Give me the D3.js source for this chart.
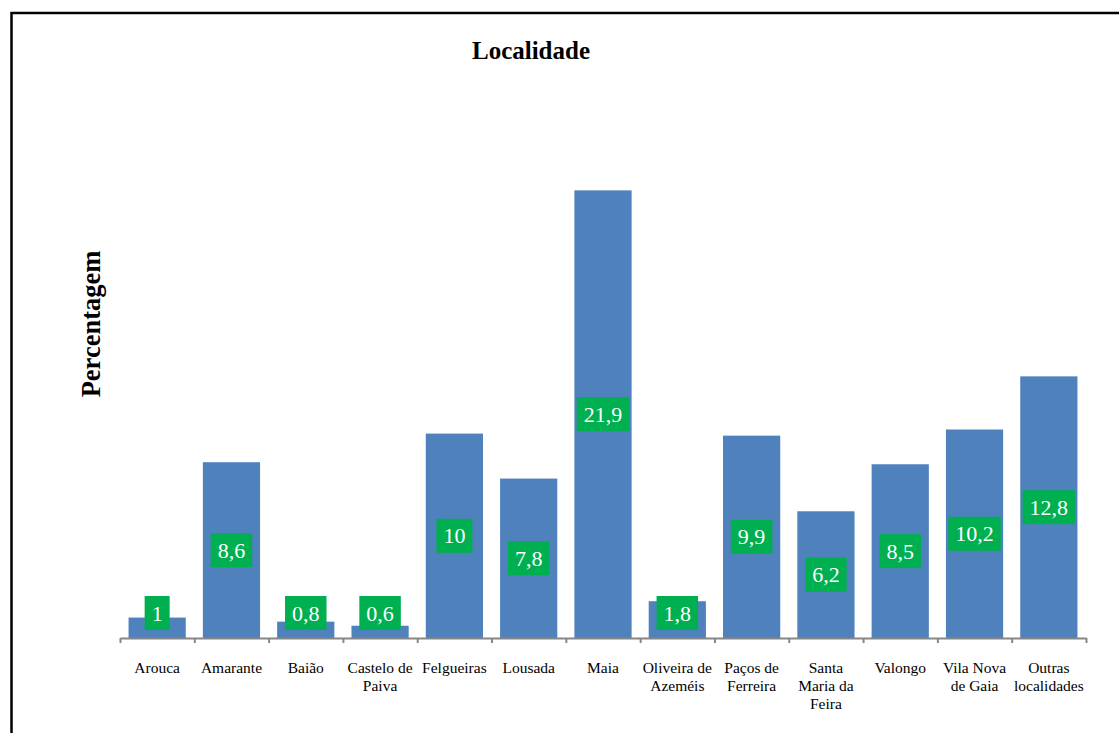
<!DOCTYPE html>
<html>
<head>
<meta charset="utf-8">
<script src="https://cdn.jsdelivr.net/npm/d3@7/dist/d3.min.js"></script>
<style>
  html, body { margin: 0; padding: 0; background: #fff; }
  svg { display: block; }
</style>
</head>
<body>
<script>
const categories = ["Arouca", "Amarante", "Baião", "Castelo de Paiva", "Felgueiras", "Lousada", "Maia",
  "Oliveira de Azeméis", "Paços de Ferreira", "Santa Maria da Feira", "Valongo", "Vila Nova de Gaia", "Outras localidades"];
const values = [1, 8.6, 0.8, 0.6, 10, 7.8, 21.9, 1.8, 9.9, 6.2, 8.5, 10.2, 12.8];
const chartTitle = "Localidade";
const yTitle = "Percentagem";

const FONT = "'Liberation Serif', 'Times New Roman', Times, serif";
const W = 1119, H = 733;
const svg = d3.select("body").append("svg").attr("width", W).attr("height", H);

// frame
svg.append("rect").attr("x", 11.5).attr("y", 13).attr("width", W + 20).attr("height", H + 20)
  .attr("fill", "none").attr("stroke", "#000").attr("stroke-width", 2.5);

const x0 = 120, x1 = 1086, yBase = 638, yTop = 127;
const x = d3.scaleBand().domain(categories).range([x0, x1]).paddingInner(0.23).paddingOuter(0.115);
const y = d3.scaleLinear().domain([0, 25]).range([yBase, yTop]);

// title
svg.append("text").attr("x", 531).attr("y", 59).attr("text-anchor", "middle")
  .style("font-family", FONT).attr("font-weight", "bold")
  .attr("font-size", 25).text(chartTitle);

// y title
svg.append("text").attr("transform", "translate(100,324) rotate(-90)").attr("text-anchor", "middle")
  .style("font-family", FONT).attr("font-weight", "bold")
  .attr("font-size", 26.5).text(yTitle);

// bars
svg.append("g").selectAll("rect").data(values).join("rect")
  .attr("x", (d, i) => x(categories[i]))
  .attr("y", d => y(d))
  .attr("width", x.bandwidth())
  .attr("height", d => y(0) - y(d))
  .attr("fill", "#4F81BD");

// axis
const edge = d3.scaleLinear().domain([0, categories.length]).range([x0, x1]);
const axis = svg.append("g").attr("transform", `translate(0,${yBase})`)
  .call(d3.axisBottom(edge).tickValues(d3.range(categories.length + 1))
    .tickSize(5).tickSizeOuter(0).tickFormat(""));
axis.selectAll("path, line").attr("stroke", "#868686").attr("stroke-width", 2);

// category labels with wrapping
const labG = svg.append("g").style("font-family", FONT)
  .attr("font-size", 15.5).attr("fill", "#000");
categories.forEach((c, i) => {
  const cx = x(c) + x.bandwidth() / 2;
  const t = labG.append("text").attr("text-anchor", "middle");
  const words = c.split(" ");
  let lines = [], cur = [];
  const probe = labG.append("text").attr("visibility", "hidden");
  words.forEach(w => {
    const test = cur.concat([w]).join(" ");
    probe.text(test);
    if (cur.length && probe.node().getComputedTextLength() > 72) {
      lines.push(cur.join(" ")); cur = [w];
    } else cur.push(w);
  });
  lines.push(cur.join(" "));
  probe.remove();
  lines.forEach((l, k) => {
    t.append("tspan").attr("x", cx).attr("y", 672.5 + k * 18).text(l);
  });
});

// value labels
const vg = svg.append("g");
values.forEach((v, i) => {
  const cx = x(categories[i]) + x.bandwidth() / 2;
  let cy = (y(v) + y(0)) / 2;
  const h = 34;
  if (cy + h / 2 > 630) cy = 630 - h / 2;
  const g = vg.append("g");
  const r = g.append("rect").attr("fill", "#00B050");
  const t = g.append("text").attr("x", cx).attr("y", cy + 7.5).attr("text-anchor", "middle")
    .style("font-family", FONT).attr("font-size", 22)
    .attr("fill", "#fff").text(String(v).replace(".", ","));
  const w = t.node().getComputedTextLength() + 14;
  r.attr("x", cx - w / 2).attr("y", cy - h / 2).attr("width", w).attr("height", h);
});
</script>
</body>
</html>
